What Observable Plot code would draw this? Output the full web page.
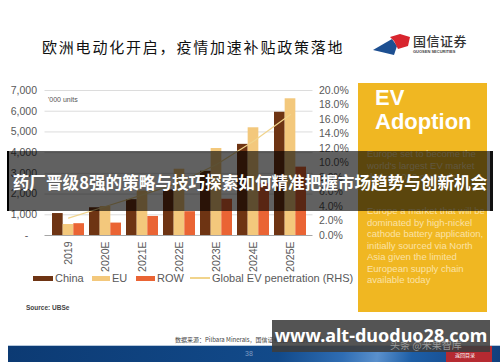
<!DOCTYPE html>
<html><head><meta charset="utf-8">
<script src="https://cdn.jsdelivr.net/npm/d3@7"></script>
<script src="https://cdn.jsdelivr.net/npm/@observablehq/plot@0.6"></script>
<style>
html,body{margin:0;padding:0;background:#fff;}
#page{position:relative;width:500px;height:362px;overflow:hidden;background:#fff;font-family:"Liberation Sans",Arial,sans-serif;}
.abs{position:absolute;white-space:nowrap;}
</style></head><body><div id="page"></div>
<script>
// ---- data ----
const years = ["2019","2020E","2021E","2022E","2023E","2024E","2025E"];
const china = [1060,1340,1730,2200,3100,4400,5950];
const eu    = [530,1400,2150,3200,4200,5200,6600];
const row   = [570,600,920,1150,1750,2500,3300];
const penetration = [2.4,4.0,5.6,7.3,9.8,13.0,16.7]; // % (RHS)
const leftTicks = [0,1000,2000,3000,4000,5000,6000,7000];
const rightTicks = [0,2,4,6,8,10,12,14,16,18,20];
const seriesNames = ["China","EU","ROW"];
const seriesColors = ["#6e3413","#f3c87c","#ea6434"];
const lineName = "Global EV penetration (RHS)";
const lineColor = "#f1d48c";

const page = document.getElementById("page");
function add(html){ page.insertAdjacentHTML("beforeend", html); }

// ---- header ----
add(`<div class="abs" style="left:42px;top:37px;font:400 15px 'Noto Sans CJK SC';letter-spacing:1.8px;color:#111;line-height:20px;">欧洲电动化开启，疫情加速补贴政策落地</div>`);
add(`<svg class="abs" style="left:370px;top:32px" width="45" height="26">
<polygon points="3,18 22,7 27,14 24,23" fill="#1d4f91"/>
<polygon points="20,5 30,2 40,5 38,14 28,17 24,9" fill="#d8252e"/>
</svg>`);
add(`<div class="abs" style="left:413px;top:33px;font:500 13px 'Noto Sans CJK SC';color:#333;line-height:16px;letter-spacing:0.5px">国信证券</div>`);
add(`<div class="abs" style="left:413px;top:49px;font:700 4px 'Liberation Sans';color:#444;line-height:5px">GUOSEN SECURITIES</div>`);

// ---- chart ----
const W = 350, H = 200, mL = 44.5, mR = 37.5, mT = 10, mB = 45, pad = 0.147;
const step = (W - mL - mR) / (years.length + pad);
const bw = step * (1 - pad);
const data = years.flatMap((y, i) => [
  {year: y, series: "China", value: china[i]},
  {year: y, series: "EU", value: eu[i]},
  {year: y, series: "ROW", value: row[i]}
]);
const lineData = years.map((y, i) => ({year: y, pct: penetration[i]}));
const k = 7000 / 20; // RHS 20% maps to 7,000
const fmt = d3.format(",");

const chart = Plot.plot({
  width: W, height: H, marginLeft: mL, marginRight: mR, marginTop: mT, marginBottom: mB,
  style: {fontFamily: "'Liberation Sans Narrow','Liberation Sans',sans-serif", fontSize: "10.5px", color: "#595959", background: "transparent"},
  x: {domain: years, padding: pad, align: 0.5},
  y: {domain: [0, 7000]},
  marks: [
    Plot.gridY(leftTicks.filter(d => d > 0), {stroke: "#dcdcdc", strokeOpacity: 1}),
    Plot.barY(data.filter(d => d.series === "China"), {x: "year", y: "value", fill: seriesColors[0], insetLeft: 0, insetRight: 2 * bw / 3}),
    Plot.barY(data.filter(d => d.series === "EU"), {x: "year", y: "value", fill: seriesColors[1], insetLeft: bw / 3, insetRight: bw / 3}),
    Plot.barY(data.filter(d => d.series === "ROW"), {x: "year", y: "value", fill: seriesColors[2], insetLeft: 2 * bw / 3, insetRight: 0}),
    Plot.ruleY([0], {stroke: "#a6a6a6"}),
    Plot.lineY(lineData, {x: "year", y: d => d.pct * k, stroke: lineColor, strokeWidth: 1.2}),
    Plot.axisY({ticks: leftTicks, tickSize: 0, tickPadding: 8, label: null,
      tickFormat: d => d === 0 ? "-\u00a0\u00a0\u00a0" : fmt(d)}),
    Plot.axisY({anchor: "right", ticks: rightTicks.map(p => p * k), tickSize: 0, tickPadding: 6, label: null,
      tickFormat: d => (d / k).toFixed(1) + "%"}),
    Plot.axisX({tickRotate: -90, tickSize: 0, tickPadding: 6, label: null})
  ]
});
const holder = document.createElement("div");
holder.className = "abs";
holder.style.left = "0px"; holder.style.top = "80px";
holder.appendChild(chart);
page.appendChild(holder);

add(`<div class="abs" style="left:48px;top:96px;font:7px 'Liberation Sans';color:#555;">'000 units</div>`);

// ---- legend ----
const legendItems = [
  {x: 33, w: 20, label: seriesNames[0], color: seriesColors[0], type: "rect"},
  {x: 92, w: 18, label: seriesNames[1], color: seriesColors[1], type: "rect"},
  {x: 136, w: 19, label: seriesNames[2], color: seriesColors[2], type: "rect"},
  {x: 190, w: 20, label: lineName, color: lineColor, type: "line"}
];
for (const it of legendItems) {
  const h = it.type === "rect" ? 5 : 1.2;
  add(`<div class="abs" style="left:${it.x}px;top:${278 - h/2}px;width:${it.w}px;height:${h}px;background:${it.color}"></div>`);
  add(`<div class="abs" style="left:${it.x + it.w + 2}px;top:271px;font:11px 'Liberation Sans Narrow','Liberation Sans';color:#595959;line-height:14px">${it.label}</div>`);
}
add(`<div class="abs" style="left:26px;top:304px;font:700 6.5px 'Liberation Sans';color:#444;">Source: UBSe</div>`);

// ---- yellow panel ----
add(`<div class="abs" style="left:358px;top:83px;width:129px;height:229px;background:#f0b722;"></div>`);
add(`<div class="abs" style="left:375px;top:86px;font:700 22px 'Liberation Sans';color:#fff;line-height:24px">EV<br>Adoption</div>`);
const para1 = ["Europe set to become the","world's largest EV market","during 2020 onwards"];
const para2 = ["Europe a market that will be","dominated by high-nickel","cathode battery application,","initially sourced via North","Asia given the limited","European supply chain","available today"];
add(`<div class="abs" style="left:367px;top:148px;font:9.5px 'Liberation Sans';color:#fbe2a6;line-height:11.5px">${para1.join("<br>")}</div>`);
add(`<div class="abs" style="left:367px;top:205px;font:9.5px 'Liberation Sans';color:#fbe2a6;line-height:11.5px">${para2.join("<br>")}</div>`);

// ---- footer ----
add(`<div class="abs" style="left:175px;top:335px;font:6px 'Noto Sans CJK SC';color:#444;">数据来源：Pilbara Minerals，国信证券经济研究所整理</div>`);
add(`<div class="abs" style="left:8px;top:345px;width:492px;height:1px;background:#b7c9dc"></div>`);
add(`<div class="abs" style="left:8px;top:346px;width:492px;height:16px;background:linear-gradient(100deg,#0c3a73 0%,#124a8a 55%,#2f6db3 68%,#5a90cc 75%,#1d5ea6 82%,#123f7c 100%)"></div>`);
add(`<div class="abs" style="left:446px;top:346px;width:46px;height:16px;background:#b52a31"></div>`);
add(`<div class="abs" style="left:455px;top:351px;font:5px 'Noto Sans CJK SC';color:#fff;">返回目录</div>`);
add(`<div class="abs" style="left:245px;top:350px;font:7px 'Liberation Sans';color:#7d9bc2;">38</div>`);

// ---- overlays ----
add(`<div class="abs" style="left:7px;top:151px;width:483px;height:60px;background:rgba(0,0,0,0.62);border-left:2px solid #000;border-right:3px solid #111;box-sizing:border-box;width:486px"></div>`);
add(`<div class="abs" style="left:7px;top:171px;width:486px;text-align:center;font:700 16.6px 'Noto Sans CJK SC';color:#fff;line-height:22px">药厂晋级8强的策略与技巧探索如何精准把握市场趋势与创新机会</div>`);
add(`<div class="abs" style="left:272px;top:320px;width:218px;height:32px;background:rgba(60,60,60,0.88)"></div>`);
add(`<div class="abs" style="left:390px;top:337px;font:10px 'Noto Sans CJK SC';color:#9a9a9a;">头条 @米果智库</div>`);
add(`<div class="abs" style="left:272px;top:322px;width:218px;text-align:center;font:700 18px 'Noto Sans';color:#fff;line-height:26px">www.alt-duoduo28.com</div>`);
</script></body></html>
